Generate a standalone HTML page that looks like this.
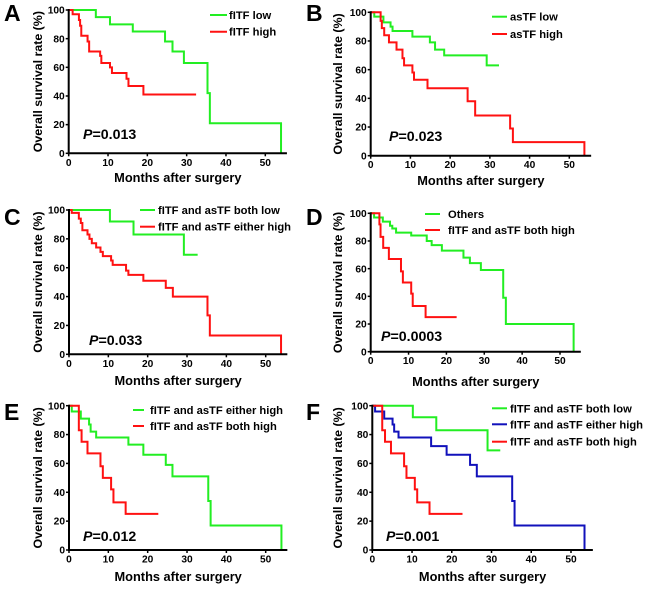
<!DOCTYPE html>
<html><head><meta charset="utf-8"><style>
html,body{margin:0;padding:0;background:#fff;}
svg{display:block;font-family:"Liberation Sans",Arial,sans-serif;font-weight:bold;}
</style></head><body>
<svg id="fig" width="650" height="589" viewBox="0 0 650 589" xmlns="http://www.w3.org/2000/svg"></svg>
<script>
// ---- data (months, survival %) ----
const xTicks = [0, 10, 20, 30, 40, 50];
const yTicks = [0, 20, 40, 60, 80, 100];

const aLowT = [6.9, 10.5, 16.3, 24.5, 26.4, 29.3, 35.3, 35.9, 54];
const aLowS = [95, 90, 85, 78, 71, 63, 42, 21, 0];
const aLowEnd = 54;
const aHighT = [1.0, 2.6, 2.9, 3.2, 4.8, 5.2, 8.0, 8.3, 10.5, 11.0, 14.7, 15.2, 19.0];
const aHighS = [97, 93, 89, 82, 78, 71, 68, 63, 60, 56, 52, 47, 41];
const aHighEnd = 32.4;

const bLowT = [0.9, 3.2, 5.0, 5.5, 10.5, 14.9, 16.2, 18.5, 29.2];
const bLowS = [97, 93, 90, 87, 83, 79, 74, 70, 63];
const bLowEnd = 32.3;
const bHighT = [2.5, 2.8, 3.4, 4.6, 6.5, 8.0, 8.4, 10.5, 10.9, 14.3, 24.4, 26.3, 35.1, 35.8, 53.8];
const bHighS = [94, 89, 84, 79, 74, 68, 63, 58, 53, 47, 38, 28, 19, 9.5, 0];
const bHighEnd = 53.8;

const cLowT = [10.4, 16.4, 29.2];
const cLowS = [92, 83, 69];
const cLowEnd = 32.7;
const cHighT = [0.7, 2.5, 3.0, 3.4, 4.7, 5.2, 5.8, 6.9, 8.0, 8.6, 10.7, 11.1, 14.5, 15.1, 18.9, 24.6, 26.4, 35.2, 35.8, 53.9];
const cHighS = [98, 94, 91, 86, 83, 80, 77, 74, 71, 68, 65, 62, 58, 55, 51, 46, 40, 27, 13, 0];
const cHighEnd = 53.9;

const dOthT = [0.9, 3.2, 5.1, 5.7, 6.7, 10.7, 14.8, 16.1, 18.8, 24.5, 26.2, 29.1, 35.0, 35.7, 53.6];
const dOthS = [97, 94, 91, 89, 86, 84, 80, 77, 73, 68, 64, 59, 39, 20, 0];
const dOthEnd = 53.6;
const dBothT = [2.3, 2.6, 3.3, 4.8, 8.0, 8.5, 10.7, 11.1, 14.5];
const dBothS = [92, 83, 75, 67, 58, 50, 42, 33, 25];
const dBothEnd = 22.7;

const eEitherT = [0.7, 3.0, 5.1, 5.5, 6.9, 15.1, 18.9, 24.6, 26.3, 35.4, 36.0, 54];
const eEitherS = [96, 91, 87, 82, 78, 73, 66, 59, 51, 34, 17, 0];
const eEitherEnd = 54;
const eBothT = [2.5, 3.2, 4.7, 8.0, 8.6, 10.7, 11.3, 14.4];
const eBothS = [83, 75, 67, 58, 50, 42, 33, 25];
const eBothEnd = 22.7;

const fLowT = [10.2, 16.1, 29.0];
const fLowS = [92, 83, 69];
const fLowEnd = 32.2;
const fEitherT = [0.7, 3.0, 5.1, 5.5, 6.6, 14.8, 18.7, 24.6, 26.3, 35.2, 35.8, 53.4];
const fEitherS = [96, 91, 87, 82, 78, 72, 66, 59, 51, 34, 17, 0];
const fEitherEnd = 53.4;
const fBothT = [2.5, 3.2, 4.7, 8.0, 8.6, 10.7, 11.3, 14.4];
const fBothS = [83, 75, 67, 58, 50, 42, 33, 25];
const fBothEnd = 22.7;

const GREEN = '#22ee22', RED = '#ff1111', BLUE = '#1111bb';
const NS = 'http://www.w3.org/2000/svg';
const svg = document.getElementById('fig');

function mk(tag, attrs, parent) {
  const e = document.createElementNS(NS, tag);
  for (const k in attrs) e.setAttribute(k, attrs[k]);
  (parent || svg).appendChild(e);
  return e;
}

const panels = [
  {id:'a', letter:'A', lx:4, ly:21, x0:68.7, x50:265.3, y100:10, y0:153.3, p:'0.013', px:83, py:139, ytx:37, xty:182,
   leg:{x1:210, x2:227, tx:229, ys:[15, 31.7]},
   series:[[aLowT,aLowS,aLowEnd,GREEN,'fITF low'],[aHighT,aHighS,aHighEnd,RED,'fITF high']]},
  {id:'b', letter:'B', lx:306, ly:21, x0:370.7, x50:569.3, y100:12.3, y0:155.7, p:'0.023', px:389, py:141, ytx:337, xty:185,
   leg:{x1:492, x2:507, tx:510, ys:[16.7, 34]},
   series:[[bLowT,bLowS,bLowEnd,GREEN,'asTF low'],[bHighT,bHighS,bHighEnd,RED,'asTF high']]},
  {id:'c', letter:'C', lx:4, ly:225, x0:69, x50:265.7, y100:210, y0:354.3, p:'0.033', px:89, py:345, ytx:37, xty:385,
   leg:{x1:140, x2:155, tx:158, ys:[210, 226.7]},
   series:[[cLowT,cLowS,cLowEnd,GREEN,'fITF and asTF both low'],[cHighT,cHighS,cHighEnd,RED,'fITF and asTF either high']]},
  {id:'d', letter:'D', lx:306, ly:225, x0:370.7, x50:560, y100:213.3, y0:351.7, p:'0.0003', px:381, py:341, ytx:337, xty:386,
   leg:{x1:425, x2:440, tx:448, ys:[214, 230]},
   series:[[dOthT,dOthS,dOthEnd,GREEN,'Others'],[dBothT,dBothS,dBothEnd,RED,'fITF and asTF both high']]},
  {id:'e', letter:'E', lx:4, ly:420, x0:69, x50:265.7, y100:405.7, y0:550, p:'0.012', px:83, py:541, ytx:37, xty:581,
   leg:{x1:133, x2:144, tx:150, ys:[410, 426]},
   series:[[eEitherT,eEitherS,eEitherEnd,GREEN,'fITF and asTF either high'],[eBothT,eBothS,eBothEnd,RED,'fITF and asTF both high']]},
  {id:'f', letter:'F', lx:306, ly:420, x0:372.3, x50:571, y100:405.7, y0:550, p:'0.001', px:386, py:541, ytx:337, xty:581,
   leg:{x1:492, x2:507, tx:510, ys:[408.3, 424.3, 441.7]},
   series:[[fLowT,fLowS,fLowEnd,GREEN,'fITF and asTF both low'],[fEitherT,fEitherS,fEitherEnd,BLUE,'fITF and asTF either high'],[fBothT,fBothS,fBothEnd,RED,'fITF and asTF both high']]}
];

panels.forEach(P => {
  const g = mk('g', {});
  
  
  const sx = t => P.x0 + (P.x50 - P.x0) * t / 50;
  const sy = v => P.y0 + (P.y100 - P.y0) * v / 100;

  const L = mk('text', {x:P.lx, y:P.ly, 'font-size':23, fill:'#000'}, g);
  L.textContent = P.letter;
  
  

  P.series.forEach((s, si) => {
    const [T, S, end, col, name] = s;
    let d = 'M' + sx(0) + ' ' + sy(100);
    for (let i = 0; i < T.length; i++) {
      d += ' H' + sx(T[i]) + ' V' + sy(S[i]);
    }
    if (end > T[T.length - 1]) d += ' H' + sx(end);
    const path = mk('path', {d:d, fill:'none', stroke:col, 'stroke-width':2}, g);
    
    
    const y = P.leg.ys[si];
    const ll = mk('line', {x1:P.leg.x1, x2:P.leg.x2, y1:y, y2:y, stroke:col, 'stroke-width':2}, g);
    
    
    const lt = mk('text', {x:P.leg.tx, y:y + 4, 'font-size':11.2, fill:'#000'}, g);
    lt.textContent = name;
    
    
  });

  const xEnd = sx(55.5);
  const ax = mk('path', {d:'M' + sx(0) + ' ' + (sy(100) - 1) + ' V' + sy(0) + ' H' + xEnd, fill:'none', stroke:'#000', 'stroke-width':2}, g);
  
  
  yTicks.forEach(v => {
    mk('line', {x1:sx(0) - 3, x2:sx(0), y1:sy(v), y2:sy(v), stroke:'#000', 'stroke-width':1.5}, g);
    const t = mk('text', {x:sx(0) - 4, y:sy(v) + 3.6, 'font-size':10.2, 'text-anchor':'end', fill:'#000'}, g);
    t.textContent = v;
    
    
  });
  xTicks.forEach(v => {
    mk('line', {x1:sx(v), x2:sx(v), y1:sy(0), y2:sy(0) + 3, stroke:'#000', 'stroke-width':1.5}, g);
    const t = mk('text', {x:sx(v), y:sy(0) + 12.5, 'font-size':10.2, 'text-anchor':'middle', fill:'#000'}, g);
    t.textContent = v;
    
    
  });

  const xt = mk('text', {x:(sx(0) + xEnd) / 2, y:P.xty, 'font-size':12.8, 'text-anchor':'middle', fill:'#000'}, g);
  xt.textContent = 'Months after surgery';
  
  
  const cy = (P.y0 + P.y100) / 2;
  const yt = mk('text', {x:P.ytx, y:cy, 'font-size':12.4, 'text-anchor':'middle', fill:'#000', transform:'rotate(-90 ' + P.ytx + ' ' + cy + ')', dy:'5'}, g);
  yt.textContent = 'Overall survival rate (%)';
  
  

  const pt = mk('text', {x:P.px, y:P.py, 'font-size':14.2, fill:'#000'}, g);
  const pi = mk('tspan', {'font-style':'italic'}, pt); pi.textContent = 'P';
  const pv = mk('tspan', {}, pt); pv.textContent = '=' + P.p;
  
  
});
</script>
</body></html>
